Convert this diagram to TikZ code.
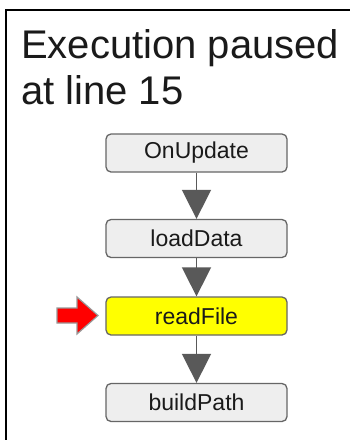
\documentclass[tikz,border=0pt]{standalone}
\usepackage{fontspec}
\setmainfont{Liberation Sans}
\usetikzlibrary{arrows.meta}
\definecolor{boxfill}{HTML}{EEEEEE}
\definecolor{boxline}{HTML}{666666}
\definecolor{arrowgray}{HTML}{595959}
\definecolor{txt}{HTML}{1A1A1A}
\definecolor{hl}{HTML}{FFFF00}
\begin{document}
\begin{tikzpicture}[x=1pt,y=-1pt,
  frame/.style={draw=black,line width=2pt},
  callbox/.style={draw=boxline,fill=boxfill,line width=1.3pt,rounded corners=5pt,
    minimum width=181pt,minimum height=38pt,inner sep=0pt,
    font=\fontsize{23}{27}\selectfont,text=txt},
  current/.style={callbox,fill=hl},
  flow/.style={draw=arrowgray,line width=1.6pt,
    -{Triangle[length=29pt,width=29pt,fill=arrowgray]}},
  pointer/.style={fill=red,draw=gray!80,line width=1.2pt,line join=miter}
]
\useasboundingbox (0,0) rectangle (349,440);
\fill[white] (0,0) rectangle (349,440);
\draw[frame] (5.5,445) -- (5.5,10) -- (355,10);
\node[anchor=north west,inner sep=0pt,align=left,text=txt,
  font=\fontsize{40}{46}\selectfont] (title) at (21,29.5)
  {Execution paused\\at line 15};
\node[callbox] (onupdate) at (196.5,153) {OnUpdate};
\node[callbox] (loaddata) at (196.5,238.5) {loadData};
\node[current] (readfile) at (196.5,316) {readFile};
\node[callbox] (buildpath) at (196.5,402.5) {buildPath};
\draw[flow] (onupdate.south) -- (loaddata.north);
\draw[flow] (loaddata.south) -- (readfile.north);
\draw[flow] (readfile.south) -- (buildpath.north);
\path[pointer] (57,308) -- (77,308) -- (77,297) -- (98,315.5) -- (77,334) -- (77,323) -- (57,323) -- cycle;
\end{tikzpicture}
\end{document}
